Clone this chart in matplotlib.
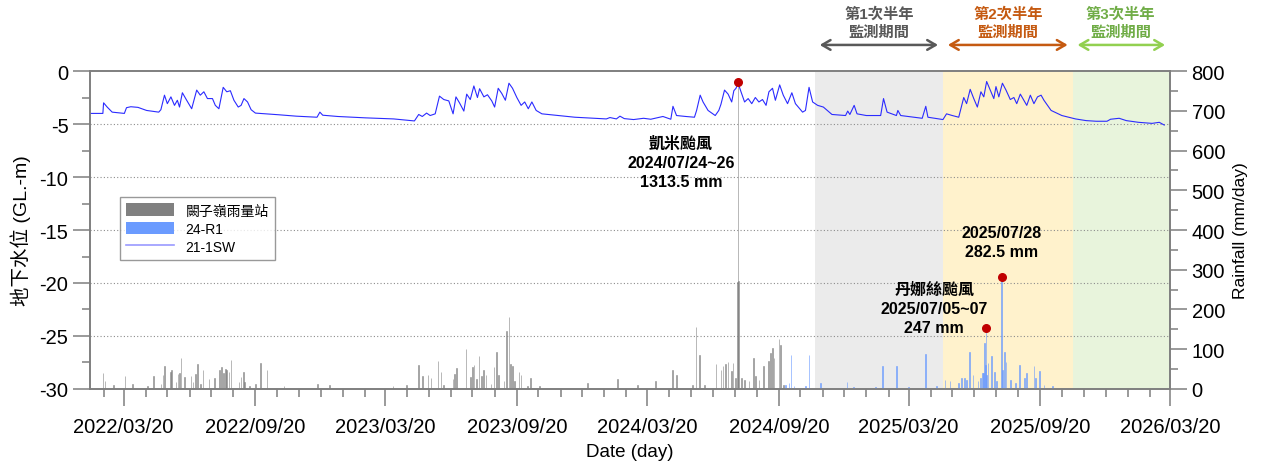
import pandas as pd
import matplotlib
matplotlib.use("Agg")
import matplotlib.pyplot as plt
import matplotlib.dates as mdates
from matplotlib.patches import Patch
from matplotlib.lines import Line2D

plt.rcParams['font.family'] = ['Liberation Sans', 'Noto Sans CJK TC']
plt.rcParams['axes.unicode_minus'] = False

# groundwater level, well 21-1SW (GL.-m)
wl_dates = [
    '2022-02-02', '2022-02-19', '2022-02-20', '2022-02-25', '2022-03-04', '2022-03-21', '2022-03-24', '2022-03-30',
    '2022-04-09', '2022-04-21', '2022-05-08', '2022-05-11', '2022-05-16', '2022-05-20', '2022-05-25', '2022-05-30',
    '2022-06-03', '2022-06-06', '2022-06-10', '2022-06-16', '2022-06-23', '2022-06-30', '2022-07-05', '2022-07-10',
    '2022-07-15', '2022-07-22', '2022-07-26', '2022-07-31', '2022-08-06', '2022-08-11', '2022-08-16', '2022-08-21',
    '2022-08-27', '2022-08-31', '2022-09-04', '2022-09-09', '2022-09-14', '2022-09-20', '2022-10-23', '2022-11-16',
    '2022-12-15', '2022-12-19', '2022-12-23', '2023-01-13', '2023-02-21', '2023-04-01', '2023-04-30', '2023-05-06',
    '2023-05-11', '2023-05-17', '2023-05-22', '2023-05-29', '2023-06-04', '2023-06-10', '2023-06-17', '2023-06-23',
    '2023-06-27', '2023-07-02', '2023-07-08', '2023-07-12', '2023-07-17', '2023-07-22', '2023-07-27', '2023-07-30',
    '2023-08-05', '2023-08-10', '2023-08-16', '2023-08-20', '2023-08-25', '2023-08-30', '2023-09-04', '2023-09-09',
    '2023-09-14', '2023-09-20', '2023-09-26', '2023-10-01', '2023-10-06', '2023-10-11', '2023-10-17', '2023-10-25',
    '2023-12-10', '2024-01-23', '2024-01-28', '2024-02-06', '2024-02-11', '2024-02-17', '2024-03-01', '2024-03-15',
    '2024-03-25', '2024-04-11', '2024-04-22', '2024-04-25', '2024-04-30', '2024-05-13', '2024-05-25', '2024-05-28',
    '2024-06-02', '2024-06-06', '2024-06-13', '2024-06-23', '2024-06-28', '2024-07-01', '2024-07-06', '2024-07-11',
    '2024-07-16', '2024-07-19', '2024-07-22', '2024-07-25', '2024-07-29', '2024-08-03', '2024-08-08', '2024-08-13',
    '2024-08-18', '2024-08-23', '2024-08-28', '2024-09-02', '2024-09-06', '2024-09-11', '2024-09-15', '2024-09-21',
    '2024-09-26', '2024-10-02', '2024-10-08', '2024-10-13', '2024-10-23', '2024-10-27', '2024-11-01', '2024-11-06',
    '2024-11-13', '2024-11-21', '2024-12-03', '2024-12-22', '2024-12-25', '2024-12-28', '2025-01-03', '2025-01-07',
    '2025-01-20', '2025-02-09', '2025-02-13', '2025-02-18', '2025-03-03', '2025-03-05', '2025-03-09', '2025-03-27',
    '2025-04-08', '2025-04-13', '2025-04-16', '2025-05-07', '2025-05-12', '2025-05-20', '2025-05-29', '2025-06-05',
    '2025-06-09', '2025-06-14', '2025-06-19', '2025-06-24', '2025-06-29', '2025-07-03', '2025-07-07', '2025-07-12',
    '2025-07-17', '2025-07-20', '2025-07-24', '2025-07-29', '2025-08-03', '2025-08-09', '2025-08-14', '2025-08-18',
    '2025-08-23', '2025-08-28', '2025-09-01', '2025-09-06', '2025-09-11', '2025-09-16', '2025-09-21', '2025-09-25',
    '2025-10-05', '2025-10-20', '2025-11-08', '2025-11-23', '2025-12-07', '2025-12-22', '2025-12-27', '2026-01-08',
    '2026-01-18', '2026-02-04', '2026-02-23', '2026-03-05', '2026-03-12',
]
wl_values = [
    -4.00, -4.00, -3.00, -3.40, -3.88, -4.00, -3.46, -3.37,
    -3.43, -3.72, -3.88, -3.65, -2.28, -3.08, -2.44, -3.24,
    -2.76, -3.40, -2.05, -2.76, -3.56, -1.80, -2.28, -1.96,
    -2.60, -2.60, -3.24, -3.56, -1.54, -1.96, -1.86, -2.76,
    -3.40, -3.24, -2.60, -2.92, -3.65, -3.97, -4.13, -4.26,
    -4.36, -3.88, -4.17, -4.29, -4.42, -4.52, -4.71, -4.10,
    -4.29, -3.97, -4.20, -4.04, -2.37, -2.69, -2.82, -4.04,
    -2.44, -3.01, -3.78, -2.18, -2.69, -1.41, -2.50, -1.67,
    -2.44, -2.24, -2.82, -3.40, -1.63, -2.12, -2.76, -1.15,
    -1.63, -2.50, -3.24, -2.92, -3.56, -2.92, -3.72, -4.04,
    -4.36, -4.52, -4.39, -4.52, -4.26, -4.49, -4.58, -4.46,
    -4.55, -4.29, -4.55, -3.33, -4.20, -4.29, -4.36, -3.72,
    -2.28, -2.92, -3.72, -4.20, -3.72, -3.14, -1.80, -2.18,
    -2.92, -1.86, -1.63, -1.15, -1.96, -2.92, -2.60, -3.08,
    -2.50, -2.92, -2.69, -3.24, -1.96, -1.63, -2.76, -1.31,
    -2.28, -3.08, -2.05, -3.08, -3.88, -3.72, -1.54, -2.92,
    -3.24, -3.40, -4.10, -4.20, -3.78, -4.10, -3.24, -4.04,
    -4.20, -4.20, -2.60, -3.88, -4.20, -3.72, -4.20, -4.36,
    -4.46, -3.33, -4.36, -4.58, -4.04, -4.20, -4.36, -2.50,
    -3.08, -1.73, -2.60, -3.40, -1.96, -2.44, -0.99, -1.80,
    -2.60, -1.47, -2.44, -1.15, -1.80, -2.69, -2.50, -3.08,
    -2.18, -2.76, -3.24, -2.28, -3.08, -2.44, -2.28, -2.76,
    -3.72, -4.20, -4.52, -4.68, -4.74, -4.74, -4.55, -4.46,
    -4.68, -4.84, -4.94, -4.84, -5.10,
]

# daily rainfall, 闕子嶺 station (mm/day)
rain_gray_dates = [
    '2022-02-19', '2022-02-22', '2022-03-06', '2022-03-22', '2022-04-01', '2022-04-22', '2022-05-01', '2022-05-11',
    '2022-05-14', '2022-05-16', '2022-05-24', '2022-05-26', '2022-06-01', '2022-06-04', '2022-06-06', '2022-06-08',
    '2022-06-13', '2022-06-22', '2022-06-25', '2022-06-28', '2022-07-01', '2022-07-05', '2022-07-09', '2022-07-17',
    '2022-07-25', '2022-08-01', '2022-08-04', '2022-08-06', '2022-08-09', '2022-08-11', '2022-08-14', '2022-08-17',
    '2022-08-28', '2022-08-31', '2022-09-03', '2022-09-05', '2022-09-12', '2022-09-20', '2022-09-27', '2022-10-06',
    '2022-10-30', '2022-12-16', '2023-01-01', '2023-03-31', '2023-04-19', '2023-05-06', '2023-05-11', '2023-05-19',
    '2023-05-23', '2023-06-02', '2023-06-06', '2023-06-10', '2023-06-23', '2023-06-25', '2023-06-28', '2023-07-11',
    '2023-07-17', '2023-07-20', '2023-07-22', '2023-07-26', '2023-07-29', '2023-08-02', '2023-08-04', '2023-08-08',
    '2023-08-15', '2023-08-19', '2023-08-23', '2023-08-25', '2023-09-02', '2023-09-06', '2023-09-09', '2023-09-11',
    '2023-09-14', '2023-09-17', '2023-09-23', '2023-09-26', '2023-10-05', '2023-10-09', '2023-10-22', '2023-12-28',
    '2024-02-08', '2024-03-06', '2024-04-01', '2024-04-24', '2024-04-30', '2024-05-22', '2024-05-27', '2024-06-01',
    '2024-06-08', '2024-06-24', '2024-07-01', '2024-07-04', '2024-07-07', '2024-07-11', '2024-07-16', '2024-07-18',
    '2024-07-21', '2024-07-24', '2024-07-25', '2024-07-26', '2024-07-30', '2024-08-03', '2024-08-09', '2024-08-15',
    '2024-08-18', '2024-08-23', '2024-08-29', '2024-09-05', '2024-09-08', '2024-09-11', '2024-09-13', '2024-09-20',
    '2024-09-22', '2024-09-26',
]
rain_gray_values = [
    41, 21, 10, 32, 13, 7, 32, 13,
    36, 57, 44, 48, 17, 38, 41, 78,
    31, 32, 17, 38, 64, 13, 47, 25,
    27, 47, 55, 41, 51, 47, 44, 72,
    17, 30, 42, 17, 7, 13, 65, 48,
    7, 13, 10, 7, 11, 61, 32, 36,
    28, 70, 42, 10, 25, 38, 53, 100,
    30, 55, 61, 25, 83, 32, 47, 36,
    13, 55, 92, 36, 21, 147, 181, 64,
    58, 21, 44, 34, 7, 28, 7, 15,
    24, 11, 21, 48, 36, 11, 157, 86,
    11, 63, 48, 57, 63, 68, 46, 65,
    28, 268, 773, 272.5, 28, 23, 19, 78,
    32, 23, 57, 71, 90, 104, 78, 125,
    111, 11,
]

# daily rainfall, 24-R1 station (mm/day)
rain_blue_dates = [
    '2024-09-29', '2024-10-04', '2024-10-07', '2024-10-11', '2024-10-27', '2024-11-01', '2024-11-17', '2024-12-24',
    '2025-01-02', '2025-02-02', '2025-02-12', '2025-03-03', '2025-03-20', '2025-04-13', '2025-04-28', '2025-05-10',
    '2025-05-17', '2025-05-29', '2025-06-02', '2025-06-06', '2025-06-09', '2025-06-13', '2025-06-18', '2025-06-25',
    '2025-06-28', '2025-07-01', '2025-07-03', '2025-07-04', '2025-07-05', '2025-07-06', '2025-07-07', '2025-07-09',
    '2025-07-14', '2025-07-18', '2025-07-21', '2025-07-28', '2025-07-29', '2025-08-01', '2025-08-03', '2025-08-09',
    '2025-08-16', '2025-08-22', '2025-08-29', '2025-09-01', '2025-09-11', '2025-09-13', '2025-09-19', '2025-09-25',
    '2025-10-07',
]
rain_blue_values = [
    11, 15, 86, 7, 7, 86, 15, 18,
    4, 4, 57, 57, 4, 88, 7, 23,
    19, 15, 28, 28, 23, 93, 36, 19,
    28, 40, 40, 115, 60, 153, 34, 65,
    84, 44, 19, 282.5, 48, 94, 69, 23,
    15, 61, 28, 40, 57, 28, 46, 11,
    7,
]

# half-year monitoring periods
period_starts = ['2024-11-09', '2025-05-07', '2025-11-04']
period_ends = ['2025-05-07', '2025-11-04', '2026-03-20']
period_labels = ['第1次半年\n監測期間', '第2次半年\n監測期間', '第3次半年\n監測期間']
period_fill = ['#ebebeb', '#fff2cc', '#e8f4dc']
period_text = ['#595959', '#c55a11', '#70ad47']
period_arrow = ['#595959', '#c55a11', '#92d050']

# marked rainfall events
event_dates = ['2024-07-25', '2025-07-06', '2025-07-28']
event_values = [773, 153, 282.5]
event_texts = ['凱米颱風\n2024/07/24~26\n1313.5 mm', '丹娜絲颱風\n2025/07/05~07\n247 mm', '2025/07/28\n282.5 mm']

wl_dates = pd.to_datetime(wl_dates)
rain_gray_dates = pd.to_datetime(rain_gray_dates)
rain_blue_dates = pd.to_datetime(rain_blue_dates)

fig = plt.figure(figsize=(12.62, 4.64), dpi=100)
ax = fig.add_axes([0.0713, 0.1595, 0.8558, 0.6853])
ax2 = ax.twinx()

x0, x1 = pd.Timestamp('2022-02-01'), pd.Timestamp('2026-03-20')

for s, e, fc in zip(period_starts, period_ends, period_fill):
    ax.axvspan(pd.Timestamp(s), pd.Timestamp(e), color=fc, lw=0, zorder=0)

for yv in range(-25, 0, 5):
    ax.axhline(yv, color='#8c8c8c', ls=(0, (1, 2)), lw=0.8, zorder=1)

ax2.bar(rain_gray_dates, rain_gray_values, width=1.0, color='#808080', edgecolor='#808080',
        lw=0.6, alpha=0.65)
ax2.bar(rain_blue_dates, rain_blue_values, width=1.0, color='#6b9bff', edgecolor='#6b9bff',
        lw=0.6, alpha=0.7)

ax.plot(wl_dates, wl_values, color='#2b2bff', lw=0.8, zorder=3)

ax2.scatter(pd.to_datetime(event_dates), event_values, s=30, color='#c00000', zorder=5)

# annotations
ax2.text(pd.Timestamp('2024-05-06'), 571, event_texts[0], ha='center', va='center',
         fontsize=11.5, fontweight='bold', linespacing=1.35)
ax2.text(pd.Timestamp('2025-04-25'), 204, event_texts[1], ha='center', va='center',
         fontsize=11.5, fontweight='bold', linespacing=1.35)
ax2.text(pd.Timestamp('2025-07-28'), 369, event_texts[2], ha='center', va='center',
         fontsize=11.5, fontweight='bold', linespacing=1.35)

# period arrows and labels above the axes
for s, e, lab, tc, ac in zip(period_starts, period_ends, period_labels, period_text, period_arrow):
    s, e = pd.Timestamp(s), pd.Timestamp(e)
    ax.annotate('', xy=(e - pd.Timedelta(days=3), 1.082), xytext=(s + pd.Timedelta(days=3), 1.082),
                xycoords=('data', 'axes fraction'), textcoords=('data', 'axes fraction'),
                arrowprops=dict(arrowstyle='<->,head_length=0.6,head_width=0.35', color=ac, lw=1.8))
    mid = s + (e - s) / 2
    if lab.startswith('第3'):
        mid = s + (pd.Timestamp('2026-03-18') - s) / 2
    ax.text(mid, 1.152, lab, transform=ax.get_xaxis_transform(), ha='center', va='center',
            fontsize=11, fontweight='bold', color=tc, linespacing=1.3)

ax.set_xlim(x0, x1)
ax.set_ylim(-30, 0)
ax2.set_ylim(0, 800)

ax.xaxis.set_major_locator(mdates.MonthLocator(bymonth=[3, 9], bymonthday=20))
ax.xaxis.set_minor_locator(mdates.MonthLocator(bymonthday=20))
ax.xaxis.set_major_formatter(mdates.DateFormatter('%Y/%m/%d'))
ax.set_yticks(range(-30, 1, 5))
ax.set_yticks([v + 2.5 for v in range(-30, 0, 5)], minor=True)
ax2.set_yticks(range(0, 801, 100))
ax2.set_yticks(range(50, 800, 100), minor=True)

spine_c = '#7f7f7f'
for a in (ax, ax2):
    for sp in a.spines.values():
        sp.set_color(spine_c)
        sp.set_linewidth(1.2)
    a.tick_params(which='major', direction='out', length=12, width=1.1, color=spine_c, labelsize=14.5)
    a.tick_params(which='minor', direction='out', length=6, width=1.1, color=spine_c)
ax.tick_params(axis='x', which='major', pad=8)

ax.set_ylabel('地下水位 (GL.-m)', fontsize=14, labelpad=6)
ax2.set_ylabel('Rainfall (mm/day)', fontsize=12.5, labelpad=6)
ax.set_xlabel('Date (day)', fontsize=13.5, labelpad=5)

handles = [Patch(facecolor='#808080', edgecolor='none'),
           Patch(facecolor='#6b9bff', edgecolor='none'),
           Line2D([0], [0], color='#9a9aff', lw=1.2)]
leg = ax.legend(handles, ['闕子嶺雨量站', '24-R1', '21-1SW'], loc='upper left',
                bbox_to_anchor=(0.021, 0.625), fontsize=10, frameon=True, fancybox=False,
                edgecolor='#808080', handlelength=3.5, handleheight=1.0, borderpad=0.45,
                labelspacing=0.3, handletextpad=0.8)
leg.get_frame().set_linewidth(1.0)

fig.savefig('out.png', dpi=100)
